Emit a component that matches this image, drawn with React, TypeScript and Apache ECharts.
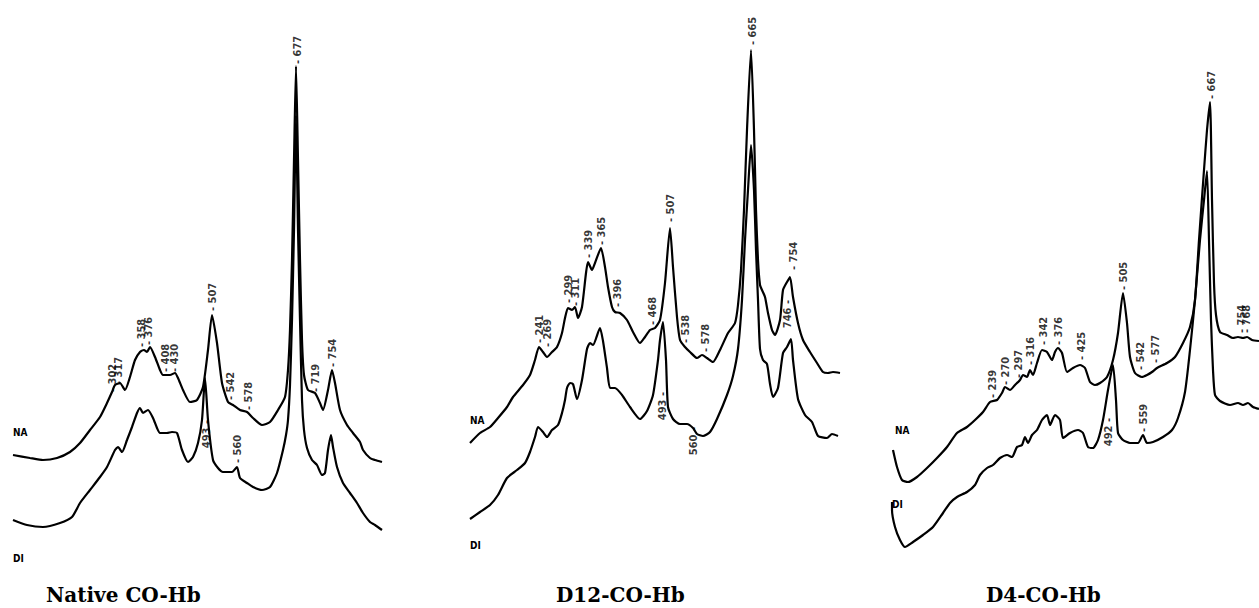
import React, { useEffect, useRef } from "react";
import * as echarts from "echarts";

// Raman spectra, x = wavenumber (cm-1, per-panel calibration), y = intensity (a.u., traces offset)
const nativeNA: [number, number][] = [
  [109,145],[143,142],[169,140],[197,142],[223,148],[243,157],[263,170],[283,183],[297,197],[307,208],
  [313,215],[323,217],[333,210],[343,223],[353,240],[363,248],[371,250],[377,248],[383,253],[393,243],
  [403,230],[409,225],[423,225],[433,227],[439,222],[449,210],[463,198],[477,200],[489,213],[499,250],
  [507,285],[517,257],[527,217],[539,198],[549,195],[563,190],[577,188],[589,182],[607,175],[623,178],
  [639,190],[653,203],[659,230],[663,270],[667,340],[671,440],[675,534],[679,440],[683,340],[687,260],
  [691,225],[699,210],[713,207],[723,197],[729,190],[739,210],[747,230],[753,217],[763,190],[777,175],
  [789,167],[803,158],[809,150],[823,142],[833,140],[847,138],
];
const nativeDI: [number, number][] = [
  [109,80],[137,75],[169,73],[203,77],[227,83],[243,97],[263,110],[283,123],[297,133],[313,150],
  [319,153],[327,148],[337,160],[347,173],[357,187],[363,192],[369,187],[379,190],[389,182],[397,172],
  [403,167],[417,167],[427,168],[437,167],[447,150],[459,138],[469,143],[479,157],[487,180],[493,222],
  [499,180],[509,140],[519,132],[529,128],[547,128],[557,133],[563,122],[577,117],[589,113],[607,110],
  [623,113],[637,127],[649,150],[655,165],[659,180],[663,215],[667,280],[671,370],[675,485],[679,370],
  [683,280],[687,200],[691,170],[697,152],[707,140],[717,135],[727,125],[733,127],[739,150],[745,165],
  [749,153],[757,133],[769,117],[783,107],[797,97],[809,87],[823,78],[833,75],[847,70],
];
const d12NA: [number, number][] = [
  [107,157],[127,167],[147,173],[163,182],[181,193],[193,203],[213,215],[227,225],[237,240],[245,253],
  [253,248],[261,243],[271,248],[281,253],[291,267],[297,282],[303,292],[311,290],[317,293],[323,282],
  [331,293],[339,327],[343,338],[351,330],[357,337],[369,352],[377,333],[383,313],[391,293],[397,288],
  [407,287],[421,280],[433,268],[447,257],[457,263],[467,270],[477,272],[487,280],[497,317],[507,372],
  [513,333],[521,283],[527,260],[537,253],[547,248],[561,242],[571,245],[581,242],[593,238],[607,250],
  [623,267],[637,277],[643,295],[649,330],[655,390],[661,470],[669,550],[675,470],[679,390],[683,340],
  [687,315],[691,310],[697,303],[703,287],[711,270],[717,265],[727,280],[733,310],[741,318],[747,323],
  [753,303],[763,277],[773,260],[787,248],[801,237],[813,228],[823,227],[833,228],[847,227],
];
const d12DI: [number, number][] = [
  [107,81],[127,88],[147,95],[163,105],[181,122],[201,130],[217,137],[227,148],[237,163],[243,173],
  [253,168],[261,163],[271,170],[283,175],[291,187],[297,200],[301,212],[307,217],[313,216],[321,201],
  [331,220],[341,251],[347,257],[353,255],[367,272],[373,259],[381,232],[387,212],[397,212],[411,205],
  [427,193],[447,181],[461,189],[473,205],[483,240],[487,260],[493,278],[499,240],[503,193],[513,181],
  [527,176],[541,176],[553,172],[561,166],[573,164],[587,168],[601,181],[621,205],[633,224],[643,251],
  [651,300],[657,360],[663,410],[669,455],[675,410],[679,350],[683,300],[687,251],[693,240],[701,236],
  [707,216],[713,203],[723,212],[733,247],[741,253],[749,261],[753,240],[763,201],[777,185],[791,178],
  [803,164],[821,162],[831,166],[843,164],
];
const d4NA: [number, number][] = [
  [45,150],[53,133],[63,120],[75,118],[93,123],[113,132],[133,142],[153,153],[173,167],[193,173],
  [209,180],[225,188],[239,198],[253,200],[263,207],[269,213],[279,210],[289,215],[299,220],[305,225],
  [313,223],[319,230],[325,225],[333,237],[343,250],[353,248],[363,240],[369,248],[375,252],[383,247],
  [393,228],[405,232],[419,235],[429,232],[439,218],[449,215],[459,217],[473,223],[485,240],[495,267],
  [505,307],[513,277],[519,243],[529,227],[543,223],[553,225],[563,228],[573,232],[593,237],[609,243],
  [625,257],[639,273],[649,300],[657,360],[667,430],[673,470],[679,498],[683,400],[687,317],[691,285],
  [699,268],[713,265],[725,262],[735,263],[745,262],[753,263],[763,260],[777,259],
];
const d4DI: [number, number][] = [
  [43,98],[43,90],[49,73],[59,60],[69,53],[85,58],[105,65],[125,73],[145,87],[159,97],
  [173,103],[193,108],[209,115],[219,125],[233,132],[245,135],[259,142],[273,145],[283,143],[293,153],
  [303,155],[309,163],[315,157],[323,165],[333,170],[343,180],[353,185],[359,175],[369,185],[379,180],
  [385,162],[399,167],[415,170],[425,167],[435,153],[445,152],[455,160],[465,180],[475,210],[485,235],
  [491,200],[495,167],[505,160],[519,157],[535,157],[545,165],[553,157],[565,158],[585,163],[603,170],
  [615,182],[629,208],[639,250],[649,300],[659,360],[667,400],[673,429],[677,360],[681,280],[685,230],
  [689,205],[699,199],[719,195],[735,197],[745,195],[755,197],[765,193],[777,191],
];

// Peak labels: [position, intensity, text]; "above" labels sit over the trace, "below" labels hang under it
const nativeAbove: [number, number, string][] = [
  [307,208,"302"],[319,215,"317"],[365,253,"358"],[379,255,"376"],[413,228,"408"],[431,228,"430"],
  [507,289,"507"],[543,200,"542"],[579,190,"578"],[677,536,"677"],[713,208,"719"],[747,233,"754"],
  [557,137,"560"],
];
const nativeBelow: [number, number, string][] = [[495,180,"493"]];
const d12Above: [number, number, string][] = [
  [245,257,"241"],[261,253,"269"],[303,297,"299"],[317,294,"311"],[343,342,"339"],[369,355,"365"],
  [401,293,"396"],[471,275,"468"],[507,378,"507"],[537,257,"538"],[577,248,"578"],[671,555,"665"],
  [753,330,"754"],
];
const d12Below: [number, number, string][] = [[741,300,"746"],[491,208,"493"],[553,173,"560"]];
const d4Above: [number, number, string][] = [
  [243,202,"239"],[269,215,"270"],[295,222,"297"],[319,235,"316"],[345,255,"342"],[375,255,"376"],
  [421,240,"425"],[505,310,"505"],[539,230,"542"],[569,237,"577"],[681,501,"667"],[741,267,"754"],
  [751,267,"768"],[545,168,"559"],
];
const d4Below: [number, number, string][] = [[475,182,"492"]];

const panelTitles = ["Native CO-Hb", "D12-CO-Hb", "D4-CO-Hb"];
const xRanges: [number, number][] = [[109, 849], [107, 847], [43, 777]];

const App: React.FC = () => {
  const ref = useRef<HTMLDivElement>(null);
  useEffect(() => {
    if (!ref.current) return;
    const chart = echarts.init(ref.current, undefined, { renderer: "svg" });
    const grids = [
      { left: 13, top: 0, width: 370, height: 600 },
      { left: 470, top: 0, width: 370, height: 600 },
      { left: 892, top: 0, width: 367, height: 600 },
    ];
    const lineS = (data: [number, number][], i: number) => ({
      type: "line", xAxisIndex: i, yAxisIndex: i, data, symbol: "none", smooth: 0.2,
      clip: false, silent: true, lineStyle: { color: "#000", width: 2.2 },
    });
    const labelS = (data: [number, number, string][], i: number, below: boolean) => ({
      type: "scatter", xAxisIndex: i, yAxisIndex: i, symbolSize: 0, silent: true, clip: false,
      data: data.map((d) => ({ value: [d[0], d[1]], name: d[2] })),
      label: {
        show: true, position: [0, 0], rotate: 90,
        align: below ? "right" : "left", verticalAlign: "middle",
        formatter: (p: any) => (below ? p.name + " -" : "- " + p.name),
        color: "#000", fontSize: 11, fontWeight: "bold",
        fontFamily: "'DejaVu Sans Condensed', 'Liberation Sans', Arial, sans-serif",
      },
    });
    const small = (text: string, x: number, y: number) => ({
      type: "text", left: x, top: y,
      style: { text, fill: "#000", font: "900 10px 'DejaVu Sans Condensed', 'Liberation Sans', Arial, sans-serif" },
    });
    const title = (text: string, x: number) => ({
      type: "text", left: x, top: 585,
      style: { text, fill: "#000", font: "bold 20px 'DejaVu Serif', serif" },
    });
    chart.setOption({
      animation: false,
      backgroundColor: "#fff",
      grid: grids,
      xAxis: xRanges.map((r, i) => ({ type: "value", gridIndex: i, min: r[0], max: r[1], show: false })),
      yAxis: grids.map((_, i) => ({ type: "value", gridIndex: i, min: 0, max: 600, show: false })),
      series: [
        lineS(nativeNA, 0), lineS(nativeDI, 0),
        lineS(d12NA, 1), lineS(d12DI, 1),
        lineS(d4NA, 2), lineS(d4DI, 2),
        labelS(nativeAbove, 0, false), labelS(nativeBelow, 0, true),
        labelS(d12Above, 1, false), labelS(d12Below, 1, true),
        labelS(d4Above, 2, false), labelS(d4Below, 2, true),
      ],
      graphic: [
        small("NA", 13, 427), small("DI", 13, 553),
        small("NA", 470, 415), small("DI", 470, 540),
        small("NA", 895, 425), small("DI", 892, 499),
        title(panelTitles[0], 46), title(panelTitles[1], 556), title(panelTitles[2], 986),
      ],
    });
    return () => chart.dispose();
  }, []);
  return <div ref={ref} style={{ position: "fixed", left: 0, top: 0, width: 1259, height: 608 }} />;
};

export default App;
